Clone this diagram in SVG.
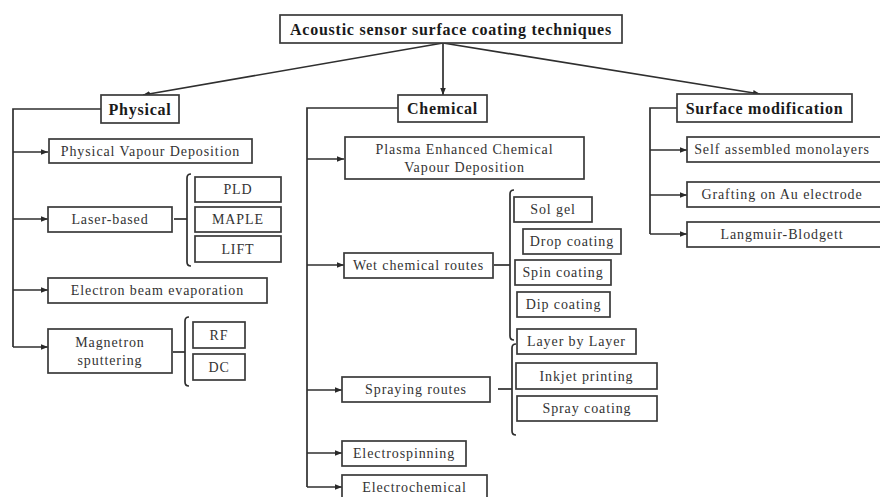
<svg xmlns="http://www.w3.org/2000/svg" width="880" height="497" viewBox="0 0 880 497">
<defs>
<marker id="ah" viewBox="0 0 10 10" refX="10" refY="5" markerWidth="7" markerHeight="7" markerUnits="userSpaceOnUse" orient="auto">
<path d="M0,1 L10,5 L0,9 z" fill="#2a2a2a"/>
</marker>
<style>
.b{fill:#fff;stroke:#3a3a3a;stroke-width:1.7}
.t{font-family:"Liberation Serif",serif;font-size:14px;letter-spacing:0.9px;fill:#333;text-anchor:middle}
.h{font-family:"Liberation Serif",serif;font-size:16px;letter-spacing:0.75px;font-weight:bold;fill:#1a1a1a;text-anchor:middle}
.c{fill:none;stroke:#2f2f2f;stroke-width:1.7}
.a{fill:none;stroke:#2f2f2f;stroke-width:1.7;marker-end:url(#ah)}
</style>
</defs>
<rect width="880" height="497" fill="#fff"/>
<g id="connectors">
<line class="a" x1="443" y1="43" x2="143" y2="95"/>
<line class="a" x1="443" y1="43" x2="443" y2="95"/>
<line class="a" x1="443" y1="43" x2="760" y2="94"/>
<path class="c" d="M101,109 H13 V347"/>
<line class="a" x1="13" y1="152" x2="48" y2="152"/>
<line class="a" x1="13" y1="219" x2="48" y2="219"/>
<line class="a" x1="13" y1="290" x2="48" y2="290"/>
<line class="a" x1="13" y1="347" x2="48" y2="347"/>
<line class="c" x1="174" y1="219" x2="187" y2="219"/>
<path class="c" d="M191,174 Q187,174 187,178 V262 Q187,266 191,266"/>
<line class="c" x1="173" y1="352" x2="185" y2="352"/>
<path class="c" d="M189,317 Q185,317 185,321 V382 Q185,386 189,386"/>
<path class="c" d="M398,108 H307 V487"/>
<line class="a" x1="307" y1="159" x2="344" y2="159"/>
<line class="a" x1="307" y1="265" x2="344" y2="265"/>
<line class="a" x1="307" y1="390" x2="342" y2="390"/>
<line class="a" x1="307" y1="453" x2="342" y2="453"/>
<line class="a" x1="307" y1="487" x2="342" y2="487"/>
<line class="c" x1="494" y1="265" x2="510" y2="265"/>
<path class="c" d="M514,190 Q510,190 510,194 V336 Q510,340 514,340"/>
<line class="c" x1="498" y1="389" x2="512" y2="389"/>
<path class="c" d="M516,344 Q512,344 512,348 V431 Q512,435 516,435"/>
<path class="c" d="M677,108 H650 V234"/>
<line class="a" x1="650" y1="150" x2="687" y2="150"/>
<line class="a" x1="650" y1="195" x2="687" y2="195"/>
<line class="a" x1="650" y1="234" x2="687" y2="234"/>
</g>
<g id="root"><rect class="b" x="280" y="15" width="342" height="28"/><text class="h" x="451" y="35">Acoustic sensor surface coating techniques</text></g>
<g id="physical"><rect class="b" x="101" y="95" width="78" height="28"/><text class="h" x="140" y="115">Physical</text></g>
<g id="chemical"><rect class="b" x="398" y="95" width="89" height="27"/><text class="h" x="442.5" y="114">Chemical</text></g>
<g id="surface"><rect class="b" x="677" y="94" width="175" height="28"/><text class="h" x="764.5" y="114">Surface modification</text></g>
<g id="pvd"><rect class="b" x="49" y="139" width="203" height="24"/><text class="t" x="150.5" y="156">Physical Vapour Deposition</text></g>
<g id="laser"><rect class="b" x="48" y="207" width="124" height="25"/><text class="t" x="110" y="224">Laser-based</text></g>
<g id="pld"><rect class="b" x="195" y="177" width="86" height="25"/><text class="t" x="238" y="194">PLD</text></g>
<g id="maple"><rect class="b" x="195" y="207" width="86" height="25"/><text class="t" x="238" y="224">MAPLE</text></g>
<g id="lift"><rect class="b" x="195" y="236" width="86" height="26"/><text class="t" x="238" y="254">LIFT</text></g>
<g id="ebeam"><rect class="b" x="48" y="278" width="219" height="25"/><text class="t" x="157.5" y="295">Electron beam evaporation</text></g>
<g id="magnetron"><rect class="b" x="48" y="329" width="124" height="44"/><text class="t" x="110" y="347">Magnetron</text><text class="t" x="110" y="365">sputtering</text></g>
<g id="rf"><rect class="b" x="193" y="322" width="52" height="26"/><text class="t" x="219" y="340">RF</text></g>
<g id="dc"><rect class="b" x="193" y="354" width="52" height="26"/><text class="t" x="219" y="372">DC</text></g>
<g id="pecvd"><rect class="b" x="345" y="137" width="239" height="42"/><text class="t" x="464.5" y="154">Plasma Enhanced Chemical</text><text class="t" x="464.5" y="172">Vapour Deposition</text></g>
<g id="wet"><rect class="b" x="344" y="253" width="149" height="25"/><text class="t" x="418.5" y="270">Wet chemical routes</text></g>
<g id="solgel"><rect class="b" x="514" y="197" width="78" height="25"/><text class="t" x="553" y="214">Sol gel</text></g>
<g id="drop"><rect class="b" x="523" y="229" width="98" height="25"/><text class="t" x="572" y="246">Drop coating</text></g>
<g id="spin"><rect class="b" x="515" y="260" width="96" height="25"/><text class="t" x="563" y="277">Spin coating</text></g>
<g id="dip"><rect class="b" x="517" y="292" width="93" height="25"/><text class="t" x="563.5" y="309">Dip coating</text></g>
<g id="lbl"><rect class="b" x="517" y="329" width="119" height="25"/><text class="t" x="576.5" y="346">Layer by Layer</text></g>
<g id="spraying"><rect class="b" x="342" y="377" width="148" height="25"/><text class="t" x="416" y="394">Spraying routes</text></g>
<g id="inkjet"><rect class="b" x="516" y="363" width="141" height="26"/><text class="t" x="586.5" y="381">Inkjet printing</text></g>
<g id="spray"><rect class="b" x="517" y="396" width="140" height="25"/><text class="t" x="587" y="413">Spray coating</text></g>
<g id="electrospinning"><rect class="b" x="342" y="441" width="124" height="25"/><text class="t" x="404" y="458">Electrospinning</text></g>
<g id="electrochemical"><rect class="b" x="342" y="475" width="145" height="30"/><text class="t" x="414.5" y="492">Electrochemical</text></g>
<g id="sam"><rect class="b" x="687" y="137" width="195" height="25"/><text class="t" x="782" y="154">Self assembled monolayers</text></g>
<g id="grafting"><rect class="b" x="687" y="182" width="195" height="25"/><text class="t" x="782" y="199">Grafting on Au electrode</text></g>
<g id="langmuir"><rect class="b" x="687" y="222" width="195" height="25"/><text class="t" x="782" y="239">Langmuir-Blodgett</text></g>
</svg>
